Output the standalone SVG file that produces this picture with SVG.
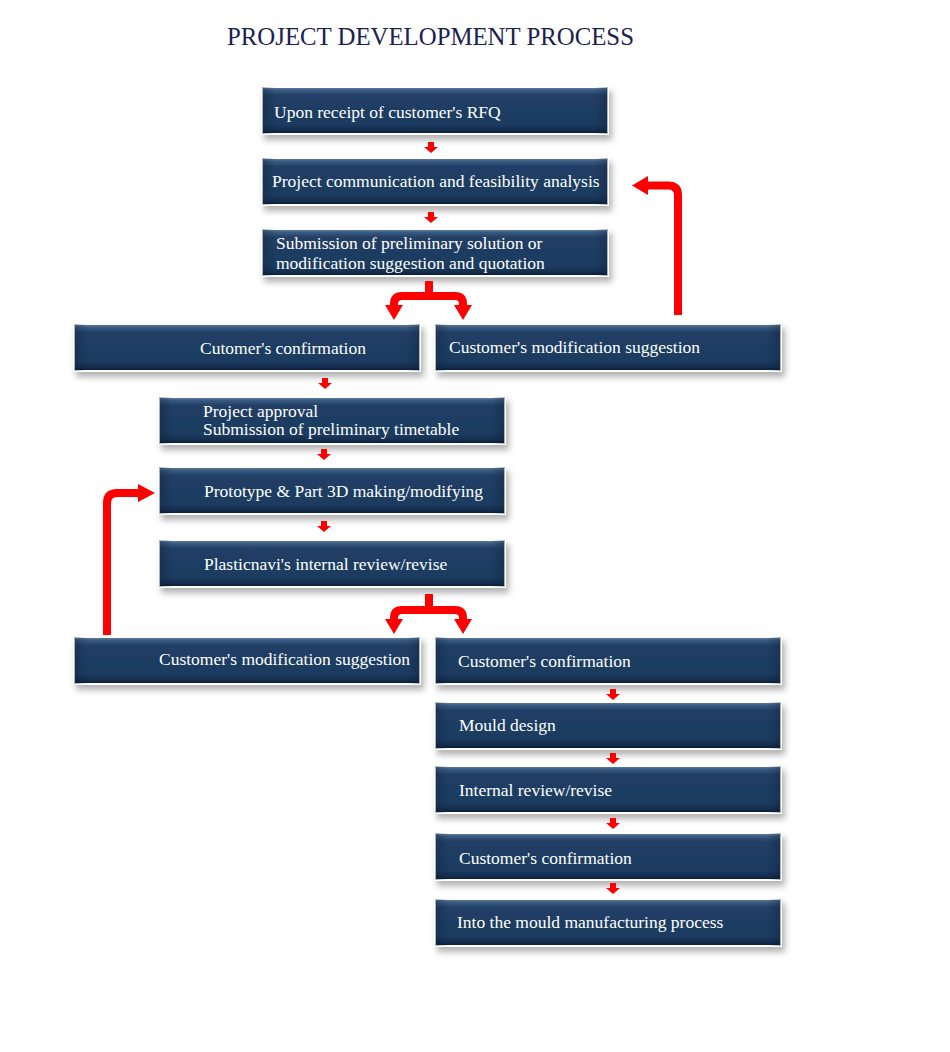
<svg xmlns="http://www.w3.org/2000/svg" xmlns:xlink="http://www.w3.org/1999/xlink" width="950" height="1052" viewBox="0 0 950 1052">
<defs>
<linearGradient id="gv" x1="0" y1="0" x2="0" y2="1">
<stop offset="0" stop-color="#6a88a6"/>
<stop offset="0.07" stop-color="#3a5b80"/>
<stop offset="0.18" stop-color="#223f66"/>
<stop offset="0.8" stop-color="#1c3b60"/>
<stop offset="0.92" stop-color="#142d4d"/>
<stop offset="1" stop-color="#0a1c34"/>
</linearGradient>
<linearGradient id="gh" x1="0" y1="0" x2="1" y2="0">
<stop offset="0" stop-color="#0a1c34" stop-opacity="0.35"/>
<stop offset="0.04" stop-color="#0a1c34" stop-opacity="0"/>
<stop offset="0.96" stop-color="#0a1c34" stop-opacity="0"/>
<stop offset="1" stop-color="#0a1c34" stop-opacity="0.35"/>
</linearGradient>
<filter id="sh" x="-10%" y="-30%" width="125%" height="180%">
<feDropShadow dx="3" dy="5" stdDeviation="3" flood-color="#000" flood-opacity="0.3"/>
</filter>
<path id="sa" d="M-3,0 H3 V5 H7 L0,11 L-7,5 H-3 Z" fill="#ff0000"/>
<style>
.box{fill:url(#gv);stroke:#ffffff;stroke-width:2;filter:url(#sh)}
.vig{fill:url(#gh)}
.t{font-family:"Liberation Serif","Times New Roman",serif;font-size:17.5px;fill:#ffffff}
.title{font-family:"Liberation Serif","Times New Roman",serif;font-size:24.8px;fill:#1b2152}
.ln{fill:none;stroke:#ff0000;stroke-width:8;stroke-linejoin:round}
.hd{fill:#ff0000}
</style>
</defs>
<rect width="950" height="1052" fill="#ffffff"/>
<text class="title" x="227" y="44.5">PROJECT DEVELOPMENT PROCESS</text>

<g id="n1"><rect class="box" x="262" y="87" width="346" height="47"/><rect class="vig" x="262" y="87" width="346" height="47"/><text class="t" x="274" y="118">Upon receipt of customer's RFQ</text></g>
<g id="n2"><rect class="box" x="262" y="158" width="346" height="47"/><rect class="vig" x="262" y="158" width="346" height="47"/><text class="t" x="272" y="187">Project communication and feasibility analysis</text></g>
<g id="n3"><rect class="box" x="262" y="229" width="346" height="47"/><rect class="vig" x="262" y="229" width="346" height="47"/><text class="t" x="276" y="249">Submission of preliminary solution or</text><text class="t" x="276" y="269">modification suggestion and quotation</text></g>
<g id="n4"><rect class="box" x="74" y="324" width="346" height="47"/><rect class="vig" x="74" y="324" width="346" height="47"/><text class="t" x="200" y="354">Cutomer's confirmation</text></g>
<g id="n5"><rect class="box" x="435" y="324" width="346" height="47"/><rect class="vig" x="435" y="324" width="346" height="47"/><text class="t" x="449" y="353">Customer's modification suggestion</text></g>
<g id="n6"><rect class="box" x="159" y="397" width="346" height="47"/><rect class="vig" x="159" y="397" width="346" height="47"/><text class="t" x="203" y="417">Project approval</text><text class="t" x="203" y="435">Submission of preliminary timetable</text></g>
<g id="n7"><rect class="box" x="159" y="467" width="346" height="47"/><rect class="vig" x="159" y="467" width="346" height="47"/><text class="t" x="204" y="497">Prototype &amp; Part 3D making/modifying</text></g>
<g id="n8"><rect class="box" x="159" y="540" width="346" height="47"/><rect class="vig" x="159" y="540" width="346" height="47"/><text class="t" x="204" y="570">Plasticnavi's internal review/revise</text></g>
<g id="n9"><rect class="box" x="74" y="637" width="346" height="47"/><rect class="vig" x="74" y="637" width="346" height="47"/><text class="t" x="159" y="665">Customer's modification suggestion</text></g>
<g id="n10"><rect class="box" x="435" y="637" width="346" height="47"/><rect class="vig" x="435" y="637" width="346" height="47"/><text class="t" x="458" y="667">Customer's confirmation</text></g>
<g id="n11"><rect class="box" x="435" y="702" width="346" height="47"/><rect class="vig" x="435" y="702" width="346" height="47"/><text class="t" x="459" y="731">Mould design</text></g>
<g id="n12"><rect class="box" x="435" y="766" width="346" height="47"/><rect class="vig" x="435" y="766" width="346" height="47"/><text class="t" x="459" y="796">Internal review/revise</text></g>
<g id="n13"><rect class="box" x="435" y="833" width="346" height="47"/><rect class="vig" x="435" y="833" width="346" height="47"/><text class="t" x="459" y="864">Customer's confirmation</text></g>
<g id="n14"><rect class="box" x="435" y="899" width="346" height="47"/><rect class="vig" x="435" y="899" width="346" height="47"/><text class="t" x="457" y="928">Into the mould manufacturing process</text></g>

<g id="connectors">
<use xlink:href="#sa" href="#sa" x="431" y="142"/>
<use xlink:href="#sa" href="#sa" x="431" y="212"/>
<use xlink:href="#sa" href="#sa" x="325" y="378"/>
<use xlink:href="#sa" href="#sa" x="324" y="449"/>
<use xlink:href="#sa" href="#sa" x="324" y="521"/>
<use xlink:href="#sa" href="#sa" x="613" y="689"/>
<use xlink:href="#sa" href="#sa" x="613" y="753"/>
<use xlink:href="#sa" href="#sa" x="613" y="818"/>
<use xlink:href="#sa" href="#sa" x="613" y="883"/>

<path class="ln" d="M429,281 V296"/>
<path class="ln" d="M394,306 V304 Q394,296 402,296 H455 Q463,296 463,304 V306"/>
<polygon class="hd" points="385,305 403,305 394,320"/>
<polygon class="hd" points="454,305 472,305 463,320"/>

<path class="ln" d="M678,315 V195 Q678,185.5 668,185.5 H646"/>
<polygon class="hd" points="648,176 648,195 632,185.5"/>

<path class="ln" d="M429,594 V610"/>
<path class="ln" d="M394,620 V618 Q394,610 402,610 H455 Q463,610 463,618 V620"/>
<polygon class="hd" points="385,619 403,619 394,634"/>
<polygon class="hd" points="454,619 472,619 463,634"/>

<path class="ln" d="M107,635 V503 Q107,493 117,493 H140"/>
<polygon class="hd" points="138,484 138,502 155,493"/>
</g>
</svg>
